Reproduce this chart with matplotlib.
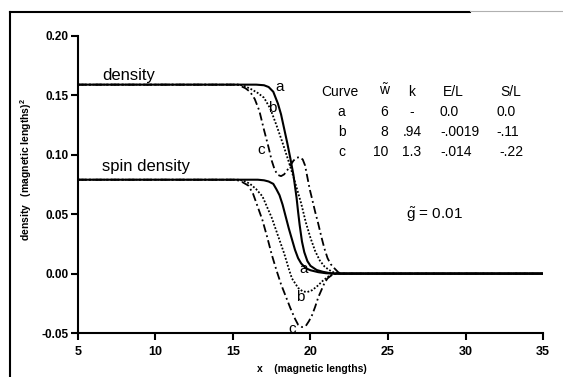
import matplotlib
matplotlib.use("Agg")
import matplotlib.pyplot as plt
from matplotlib.lines import Line2D

plt.rcParams['font.family'] = ['Liberation Sans', 'DejaVu Sans']
plt.rcParams['mathtext.fontset'] = 'custom'
plt.rcParams['mathtext.rm'] = 'Liberation Sans'
plt.rcParams['mathtext.bf'] = 'Liberation Sans:bold'

# density curves
xa_den = [5, 16.5, 17.0, 17.3, 17.6, 17.9, 18.1, 18.3, 18.5, 18.7, 18.9, 19.1, 19.2, 19.3,
          19.45, 19.6, 19.8, 20.0, 20.4, 20.8, 21.2, 21.6, 35]
ya_den = [0.159, 0.159, 0.1585, 0.157, 0.153, 0.143, 0.134, 0.122, 0.110, 0.097, 0.083, 0.064,
          0.052, 0.041, 0.027, 0.018, 0.0105, 0.0065, 0.003, 0.0015, 0.0005, 0.0, 0.0]

xb_den = [5, 15.4, 15.8, 16.2, 16.6, 17.0, 17.4, 17.8, 18.2, 18.6, 19.0, 19.4, 19.7, 20.0,
          20.3, 20.6, 20.9, 21.2, 21.5, 21.8, 35]
yb_den = [0.159, 0.159, 0.1575, 0.155, 0.152, 0.148, 0.139, 0.125, 0.110, 0.094, 0.077, 0.059,
          0.043, 0.030, 0.019, 0.011, 0.006, 0.003, 0.001, 0.0, 0.0]

xc_den = [5, 15.3, 15.8, 16.1, 16.4, 16.7, 17.0, 17.3, 17.5, 17.7, 17.9, 18.1, 18.3, 18.5,
          18.7, 18.9, 19.1, 19.3, 19.5, 19.65, 19.8, 19.95, 20.1, 20.3, 20.5, 20.7, 20.9,
          21.1, 21.3, 21.5, 21.8, 22.0, 35]
yc_den = [0.159, 0.159, 0.156, 0.153, 0.147, 0.137, 0.121, 0.106, 0.095, 0.087, 0.083, 0.082,
          0.0835, 0.087, 0.091, 0.095, 0.0975, 0.098, 0.096, 0.091, 0.081, 0.071, 0.063,
          0.052, 0.042, 0.031, 0.021, 0.013, 0.008, 0.005, 0.001, 0.0, 0.0]

# spin density curves
xa_spin = [5, 16.6, 17.0, 17.3, 17.6, 17.8, 18.0, 18.2, 18.4, 18.6, 18.8, 19.0, 19.2, 19.4,
           19.7, 20.0, 20.5, 21.0, 21.5, 35]
ya_spin = [0.079, 0.079, 0.0785, 0.0775, 0.0755, 0.071, 0.066, 0.058, 0.048, 0.038, 0.029,
           0.020, 0.013, 0.0085, 0.0045, 0.0028, 0.0012, 0.0003, 0.0, 0.0]

xb_spin = [5, 15.4, 15.8, 16.1, 16.5, 16.9, 17.2, 17.5, 17.9, 18.3, 18.6, 18.8, 19.2, 19.5,
           19.8, 20.1, 20.4, 20.8, 21.2, 21.6, 35]
yb_spin = [0.079, 0.079, 0.0775, 0.0755, 0.071, 0.065, 0.056, 0.047, 0.032, 0.017, 0.004,
           -0.004, -0.012, -0.015, -0.0155, -0.014, -0.011, -0.006, -0.002, 0.0, 0.0]

xc_spin = [5, 15.2, 15.6, 16.0, 16.3, 16.6, 16.9, 17.2, 17.5, 17.8, 18.1, 18.4, 18.7, 19.0,
           19.2, 19.45, 19.7, 19.9, 20.1, 20.3, 20.5, 20.7, 20.9, 21.1, 21.4, 21.7, 35]
yc_spin = [0.079, 0.079, 0.077, 0.074, 0.067, 0.056, 0.045, 0.031, 0.016, 0.003, -0.009,
           -0.019, -0.029, -0.038, -0.043, -0.045, -0.044, -0.040, -0.035, -0.028, -0.020,
           -0.014, -0.008, -0.004, -0.001, 0.0, 0.0]

# table
curves = ['a', 'b', 'c']
w_vals = ['6', '8', '10']
k_vals = ['-', '.94', '1.3']
e_vals = ['0.0', '-.0019', '-.014']
s_vals = ['0.0', '-.11', '-.22']

xticks = [5, 10, 15, 20, 25, 30, 35]
yticks = [-0.05, 0.00, 0.05, 0.10, 0.15, 0.20]

fig = plt.figure(figsize=(5.63, 3.77), dpi=100)
ax = fig.add_axes([0.1385, 0.1167, 0.826, 0.788])

lw = 1.3
dotted = (0, (1, 1))
dashdot = (0, (4.5, 1.8, 1, 1.8))
ax.plot(xa_den, ya_den, color='black', lw=1.5)
ax.plot(xb_den, yb_den, color='black', lw=lw, linestyle=dotted)
ax.plot(xc_den, yc_den, color='black', lw=lw, linestyle=dashdot)
ax.plot(xa_spin, ya_spin, color='black', lw=1.5)
ax.plot(xb_spin, yb_spin, color='black', lw=lw, linestyle=dotted)
ax.plot(xc_spin, yc_spin, color='black', lw=lw, linestyle=dashdot)

ax.set_xlim(5, 35)
ax.set_ylim(-0.05, 0.20)
ax.set_xticks(xticks)
ax.set_xticklabels([str(t) for t in xticks], fontsize=9, fontweight='bold')
ax.set_yticks(yticks)
ax.set_yticklabels(['%.2f' % t for t in yticks], fontsize=8.5, fontweight='bold')
ax.spines['top'].set_visible(False)
ax.spines['right'].set_visible(False)
ax.spines['left'].set_linewidth(1.5)
ax.spines['bottom'].set_linewidth(1.5)
ax.tick_params(axis='both', direction='out', length=5, width=1.5, colors='black')
ax.tick_params(axis='x', pad=4)
ax.tick_params(axis='y', pad=2)

ax.set_xlabel('x    (magnetic lengths)', fontsize=7.5, fontweight='bold')
ax.xaxis.set_label_coords(0.503, -0.105)
ax.set_ylabel('density   (magnetic lengths)$^\\mathbf{2}$', fontsize=7.5, fontweight='bold')
ax.yaxis.set_label_coords(-0.095, 0.55)

# curve labels
ax.text(6.55, 0.167, 'density', fontsize=12, va='center', ha='left')
ax.text(6.55, 0.090, 'spin density', fontsize=12, va='center', ha='left')
ax.text(18.03, 0.157, 'a', fontsize=11, ha='center', va='center')
ax.text(17.5, 0.139, 'b', fontsize=11, ha='center', va='center')
ax.text(16.85, 0.104, 'c', fontsize=11, ha='center', va='center')
ax.text(19.54, 0.0042, 'a', fontsize=11, ha='center', va='center')
ax.text(19.32, -0.0197, 'b', fontsize=11, ha='center', va='center')
ax.text(18.79, -0.047, 'c', fontsize=11, ha='center', va='center')

# table of parameters
fs = 10
ty = [0.153, 0.136, 0.119, 0.102]
ax.text(21.9, ty[0], 'Curve', fontsize=fs, ha='center', va='center')
ax.text(24.8, ty[0] + 0.001, '$\\tilde{\\mathrm{w}}$', fontsize=fs, ha='center', va='center')
ax.text(26.55, ty[0], 'k', fontsize=fs, ha='center', va='center')
ax.text(29.2, ty[0], 'E/L', fontsize=fs, ha='center', va='center')
ax.text(32.9, ty[0], 'S/L', fontsize=fs, ha='center', va='center')
s_x = [32.0, 32.0, 32.2]
for i in range(3):
    y = ty[i + 1]
    ax.text(22.0, y, curves[i], fontsize=fs, ha='center', va='center')
    ax.text(25.0, y, w_vals[i], fontsize=fs, ha='right', va='center')
    ax.text(26.55, y, k_vals[i], fontsize=fs, ha='center', va='center')
    ax.text(28.35, y, e_vals[i], fontsize=fs, ha='left', va='center')
    ax.text(s_x[i], y, s_vals[i], fontsize=fs, ha='left', va='center')

ax.text(26.16, 0.050, '$\\tilde{\\mathrm{g}}$ = 0.01', fontsize=11, ha='left', va='center')

# scanned page frame
fig.add_artist(Line2D([0.0178, 0.0178], [0.0, 0.968], color='black', lw=1.5))
fig.add_artist(Line2D([0.0178, 0.835], [0.968, 0.968], color='black', lw=1.5))
fig.add_artist(Line2D([0.835, 1.0], [0.972, 0.972], color='#b0b0b0', lw=0.8))

fig.savefig('out.png', dpi=100)
